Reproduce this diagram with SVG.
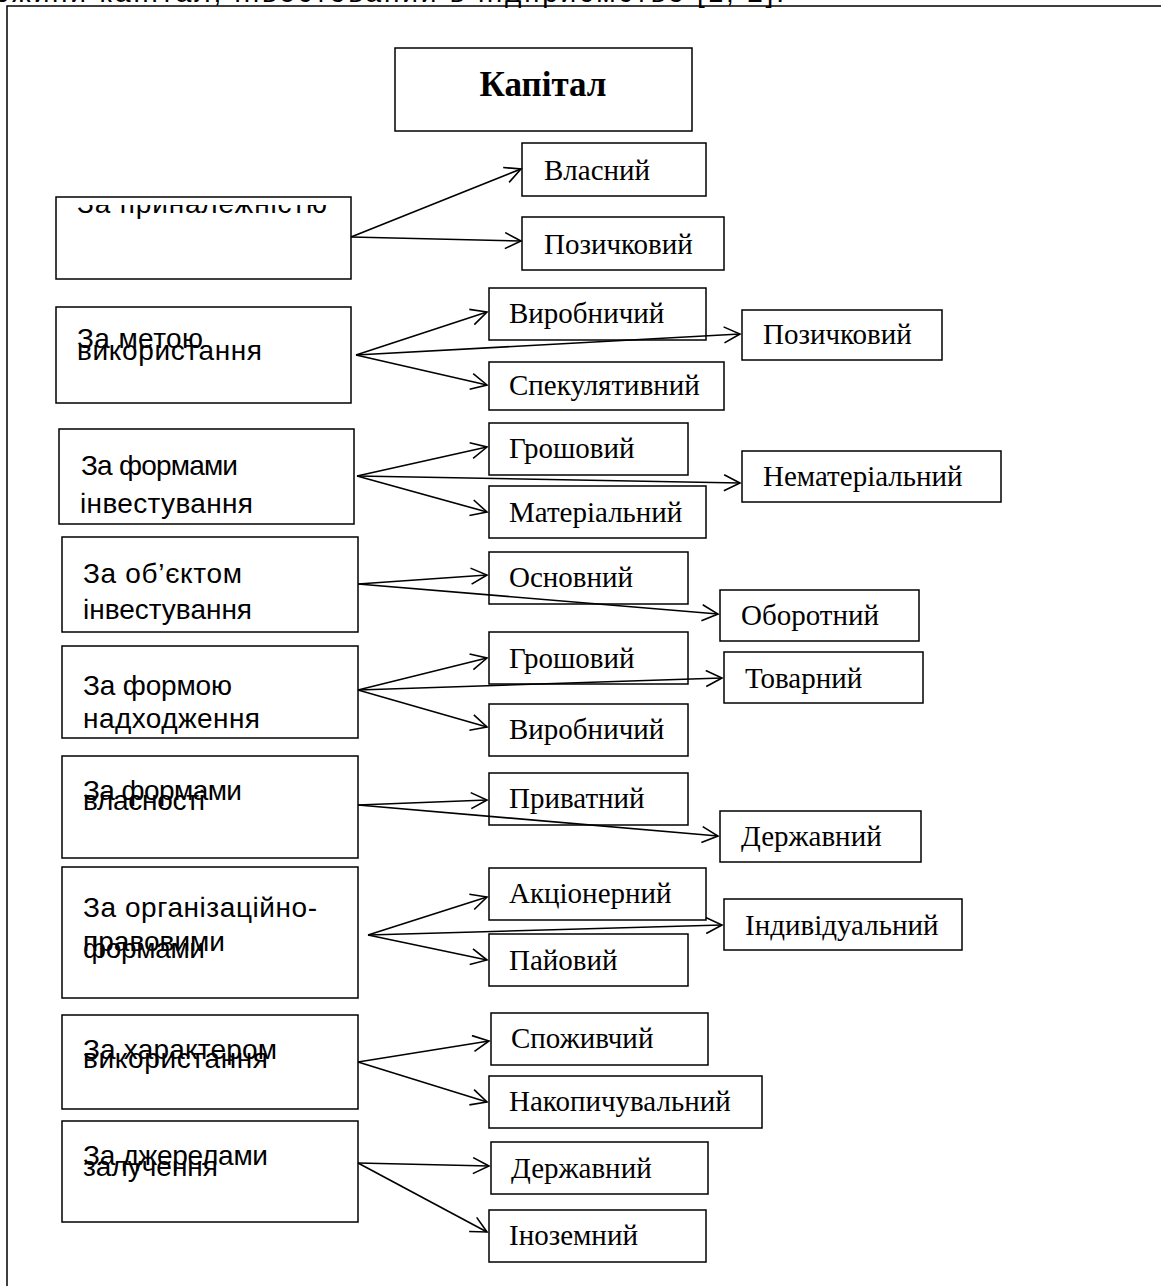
<svg xmlns="http://www.w3.org/2000/svg" width="1161" height="1286" viewBox="0 0 1161 1286">
<defs>
<style>
.box{fill:#fff;stroke:#000;stroke-width:1.5}
.frame{fill:none;stroke:#000;stroke-width:1.5}
.lt{font-family:"Liberation Sans",Arial,sans-serif;font-size:28px;fill:#000}
.rt{font-family:"Liberation Serif","Times New Roman",serif;font-size:29px;fill:#000}
.title{font-family:"Liberation Serif","Times New Roman",serif;font-size:35px;font-weight:bold;fill:#000}
.conn line{stroke:#000;stroke-width:1.6;marker-end:url(#arr)}
</style>
<marker id="arr" markerUnits="userSpaceOnUse" markerWidth="22" markerHeight="22" refX="18" refY="9" orient="auto">
<path d="M2,1 L18,9 L2,17" fill="none" stroke="#000" stroke-width="1.6"/>
</marker>
<clipPath id="c1"><rect x="56" y="205" width="295" height="74"/></clipPath>
</defs>
<rect width="1161" height="1286" fill="#fff"/>
<text class="lt" x="-6" y="2" textLength="790" lengthAdjust="spacing">ожини капітал, інвестований в підприємство [1, 2].</text>
<rect class="frame" x="7" y="6" width="1160" height="1300"/>

<g id="capital"><rect class="box" x="395" y="48" width="297" height="83"/><text class="title" x="543" y="96" text-anchor="middle">Капітал</text></g>

<g id="n1"><rect class="box" x="56" y="197" width="295" height="82"/><text class="lt" x="77" y="213" textLength="250" clip-path="url(#c1)">За приналежністю</text></g>
<g id="n2"><rect class="box" x="56" y="307" width="295" height="96"/><text class="lt" x="77" y="348" textLength="126">За метою</text><text class="lt" x="77" y="360" textLength="185">використання</text></g>
<g id="n3"><rect class="box" x="59" y="429" width="295" height="95"/><text class="lt" x="81" y="475" textLength="157">За формами</text><text class="lt" x="80" y="513" textLength="173">інвестування</text></g>
<g id="n4"><rect class="box" x="62" y="537" width="296" height="95"/><text class="lt" x="83" y="583" textLength="159">За об’єктом</text><text class="lt" x="83" y="619" textLength="169">інвестування</text></g>
<g id="n5"><rect class="box" x="62" y="646" width="296" height="92"/><text class="lt" x="83" y="695" textLength="149">За формою</text><text class="lt" x="83" y="728" textLength="177">надходження</text></g>
<g id="n6"><rect class="box" x="62" y="756" width="296" height="102"/><text class="lt" x="83" y="800" textLength="159">За формами</text><text class="lt" x="83" y="810" textLength="122">власності</text></g>
<g id="n7"><rect class="box" x="62" y="867" width="296" height="131"/><text class="lt" x="83" y="917" textLength="234">За організаційно-</text><text class="lt" x="83" y="951" textLength="142">правовими</text><text class="lt" x="83" y="958" textLength="122">формами</text></g>
<g id="n8"><rect class="box" x="62" y="1015" width="296" height="94"/><text class="lt" x="83" y="1059" textLength="194">За характером</text><text class="lt" x="83" y="1068" textLength="185">використання</text></g>
<g id="n9"><rect class="box" x="62" y="1121" width="296" height="101"/><text class="lt" x="83" y="1165" textLength="185">За джерелами</text><text class="lt" x="83" y="1176" textLength="135">залучення</text></g>

<g id="r1a"><rect class="box" x="522" y="143" width="184" height="53"/><text class="rt" x="544" y="180">Власний</text></g>
<g id="r1b"><rect class="box" x="522" y="217" width="202" height="53"/><text class="rt" x="544" y="254">Позичковий</text></g>
<g id="r2a"><rect class="box" x="489" y="288" width="217" height="52"/><text class="rt" x="509" y="323">Виробничий</text></g>
<g id="r2b"><rect class="box" x="742" y="310" width="200" height="50"/><text class="rt" x="763" y="344">Позичковий</text></g>
<g id="r2c"><rect class="box" x="489" y="362" width="235" height="48"/><text class="rt" x="509" y="395">Спекулятивний</text></g>
<g id="r3a"><rect class="box" x="489" y="423" width="199" height="52"/><text class="rt" x="509" y="458">Грошовий</text></g>
<g id="r3b"><rect class="box" x="742" y="451" width="259" height="51"/><text class="rt" x="763" y="486">Нематеріальний</text></g>
<g id="r3c"><rect class="box" x="489" y="486" width="217" height="52"/><text class="rt" x="509" y="522">Матеріальний</text></g>
<g id="r4a"><rect class="box" x="489" y="552" width="199" height="52"/><text class="rt" x="509" y="587">Основний</text></g>
<g id="r4b"><rect class="box" x="720" y="590" width="199" height="51"/><text class="rt" x="741" y="625">Оборотний</text></g>
<g id="r5a"><rect class="box" x="489" y="632" width="199" height="52"/><text class="rt" x="509" y="668">Грошовий</text></g>
<g id="r5b"><rect class="box" x="724" y="652" width="199" height="51"/><text class="rt" x="745" y="688">Товарний</text></g>
<g id="r5c"><rect class="box" x="489" y="704" width="199" height="52"/><text class="rt" x="509" y="739">Виробничий</text></g>
<g id="r6a"><rect class="box" x="489" y="773" width="199" height="52"/><text class="rt" x="509" y="808">Приватний</text></g>
<g id="r6b"><rect class="box" x="720" y="811" width="201" height="51"/><text class="rt" x="741" y="846">Державний</text></g>
<g id="r7a"><rect class="box" x="489" y="868" width="217" height="52"/><text class="rt" x="509" y="903">Акціонерний</text></g>
<g id="r7b"><rect class="box" x="724" y="899" width="238" height="51"/><text class="rt" x="745" y="935">Індивідуальний</text></g>
<g id="r7c"><rect class="box" x="489" y="934" width="199" height="52"/><text class="rt" x="509" y="970">Пайовий</text></g>
<g id="r8a"><rect class="box" x="491" y="1013" width="217" height="52"/><text class="rt" x="511" y="1048">Споживчий</text></g>
<g id="r8b"><rect class="box" x="489" y="1076" width="273" height="52"/><text class="rt" x="509" y="1111">Накопичувальний</text></g>
<g id="r9a"><rect class="box" x="491" y="1142" width="217" height="52"/><text class="rt" x="511" y="1178">Державний</text></g>
<g id="r9b"><rect class="box" x="489" y="1210" width="217" height="52"/><text class="rt" x="509" y="1245">Іноземний</text></g>

<g id="connectors" class="conn">
<line x1="351" y1="237" x2="521" y2="169"/>
<line x1="351" y1="237" x2="521" y2="241"/>
<line x1="356" y1="355" x2="487" y2="312"/>
<line x1="356" y1="355" x2="740" y2="334"/>
<line x1="356" y1="355" x2="487" y2="385"/>
<line x1="357" y1="476" x2="487" y2="447"/>
<line x1="357" y1="476" x2="740" y2="483"/>
<line x1="357" y1="476" x2="487" y2="512"/>
<line x1="358" y1="584" x2="487" y2="575"/>
<line x1="358" y1="584" x2="718" y2="614"/>
<line x1="358" y1="690" x2="487" y2="658"/>
<line x1="358" y1="690" x2="722" y2="678"/>
<line x1="358" y1="690" x2="487" y2="727"/>
<line x1="358" y1="805" x2="487" y2="800"/>
<line x1="358" y1="805" x2="718" y2="836"/>
<line x1="368" y1="935" x2="487" y2="897"/>
<line x1="368" y1="935" x2="722" y2="925"/>
<line x1="368" y1="935" x2="487" y2="960"/>
<line x1="358" y1="1062" x2="489" y2="1041"/>
<line x1="358" y1="1062" x2="487" y2="1102"/>
<line x1="358" y1="1163" x2="489" y2="1166"/>
<line x1="358" y1="1163" x2="487" y2="1232"/>
</g>
</svg>
